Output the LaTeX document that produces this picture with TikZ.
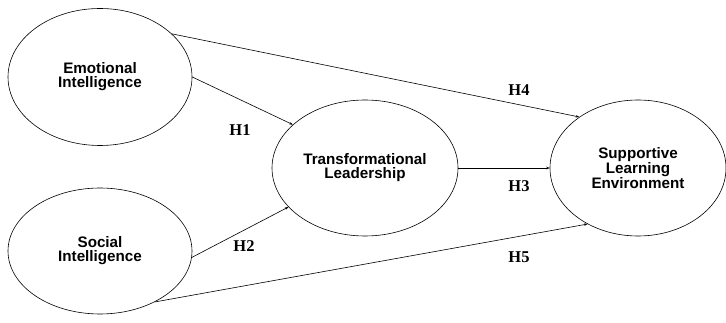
\documentclass[tikz,border=0pt]{standalone}
\usepackage{fontspec}
\setmainfont{Liberation Serif}
\setsansfont{Liberation Sans}
\usetikzlibrary{shapes.geometric, arrows.meta}

\begin{document}
\begin{tikzpicture}[x=1pt, y=-1pt,
  konstrukt/.style={ellipse, draw, line width=0.6pt, inner sep=0pt, align=center,
    font=\sffamily\bfseries\fontsize{15.2}{14}\selectfont},
  pfad/.style={line width=0.6pt, -{Stealth[length=3.5pt, width=2.5pt]}},
  hyp/.style={font=\rmfamily\bfseries\fontsize{16.5}{16}\selectfont}]
  % Rahmen
  \useasboundingbox (0, 0) rectangle (726, 323);
  % Konstrukte
  \node[konstrukt, minimum width=184, minimum height=137] (ei) at (100, 77) {Emotional\\Intelligence};
  \node[konstrukt, minimum width=184, minimum height=126] (si) at (100, 251) {Social\\Intelligence};
  \node[konstrukt, minimum width=186, minimum height=136] (tl) at (365, 168) {Transformational\\Leadership};
  \node[konstrukt, minimum width=176, minimum height=136] (sle) at (638, 168) {Supportive\\Learning\\Environment};
  % Pfade H1--H5
  \draw[pfad] (ei.east) -- (tl.149);
  \draw[pfad] (si.-4) -- (tl.207);
  \draw[pfad] (tl.east) -- (sle.west);
  \draw[pfad] (ei.31) -- (sle.139);
  \draw[pfad] (si.-43) -- (sle.228);
  % Beschriftungen
  \node[hyp] (h1) at (240, 130) {H1};
  \node[hyp] (h2) at (244, 246) {H2};
  \node[hyp] (h3) at (519, 186) {H3};
  \node[hyp] (h4) at (519, 90) {H4};
  \node[hyp] (h5) at (519, 257) {H5};
\end{tikzpicture}
\end{document}
